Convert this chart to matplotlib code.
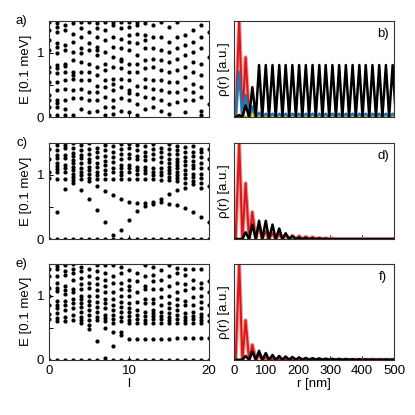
import matplotlib
matplotlib.use("Agg")
import matplotlib.pyplot as plt

plt.rcParams['font.family'] = ['Liberation Sans', 'DejaVu Sans']
plt.rcParams['font.size'] = 9.5

# energy levels E [0.1 meV] for each angular momentum l = 0..20
levels_a = [
    [1.48, 1.35, 1.20, 1.04, 0.78, 0.70, 0.55, 0.34, 0.26, 0.16, 0.03],
    [1.46, 1.41, 1.33, 1.15, 1.09, 0.99, 0.81, 0.76, 0.68, 0.55, 0.42, 0.26, 0.22, 0.16, 0.03],
    [1.43, 1.35, 1.12, 1.04, 0.83, 0.79, 0.70, 0.57, 0.44, 0.26, 0.13, 0.03],
    [1.46, 1.30, 1.17, 1.02, 0.89, 0.70, 0.66, 0.60, 0.42, 0.29, 0.03],
    [1.48, 1.38, 1.25, 1.07, 0.99, 0.86, 0.70, 0.57, 0.44, 0.29, 0.13],
    [1.48, 1.33, 1.15, 1.04, 0.83, 0.70, 0.57, 0.39, 0.26, 0.08],
    [1.46, 1.38, 1.25, 1.09, 1.05, 0.96, 0.78, 0.65, 0.49, 0.39, 0.26, 0.10],
    [1.48, 1.35, 1.20, 1.02, 0.83, 0.73, 0.57, 0.47, 0.31, 0.16, 0.03],
    [1.48, 1.43, 1.25, 1.09, 0.94, 0.78, 0.60, 0.52, 0.42, 0.26, 0.16, 0.05],
    [1.48, 1.38, 1.22, 1.07, 0.91, 0.87, 0.76, 0.60, 0.47, 0.29, 0.10],
    [1.48, 1.41, 1.28, 1.17, 1.04, 0.83, 0.70, 0.57, 0.42, 0.38, 0.26, 0.08],
    [1.48, 1.43, 1.30, 1.15, 0.96, 0.83, 0.70, 0.49, 0.36, 0.21, 0.03],
    [1.46, 1.28, 1.20, 1.07, 0.89, 0.76, 0.60, 0.47, 0.31, 0.13],
    [1.43, 1.25, 1.07, 0.91, 0.78, 0.57, 0.44, 0.29, 0.16],
    [1.48, 1.25, 1.04, 0.89, 0.73, 0.57, 0.42, 0.26, 0.10],
    [1.41, 1.17, 1.02, 0.86, 0.70, 0.55, 0.39, 0.21, 0.05],
    [1.48, 1.25, 1.07, 0.91, 0.73, 0.55, 0.39, 0.23],
    [1.28, 1.12, 0.96, 0.78, 0.62, 0.44, 0.26, 0.08],
    [1.35, 1.17, 1.02, 0.86, 0.70, 0.52, 0.39, 0.26],
    [1.43, 1.25, 1.07, 0.83, 0.65, 0.47, 0.31, 0.10, 0.03],
    [1.33, 0.94, 0.21],
]

levels_c = [
    [0.0, 0.95, 1.05, 1.25, 1.40],
    [0.0, 0.42, 0.94, 1.05, 1.09, 1.14, 1.18, 1.26, 1.31, 1.39, 1.47],
    [0.0, 0.78, 0.94, 1.05, 1.10, 1.16, 1.26, 1.31, 1.42, 1.47],
    [0.0, 0.87, 0.92, 0.97, 1.02, 1.08, 1.13, 1.18, 1.23, 1.29, 1.34, 1.42, 1.49],
    [0.0, 0.77, 0.94, 1.00, 1.05, 1.10, 1.18, 1.26, 1.31, 1.39, 1.47],
    [0.0, 0.62, 0.90, 0.95, 1.02, 1.07, 1.12, 1.20, 1.25, 1.33, 1.40, 1.49],
    [0.0, 0.45, 0.82, 0.94, 1.00, 1.05, 1.13, 1.18, 1.28, 1.35, 1.42],
    [0.0, 0.26, 0.75, 0.93, 1.02, 1.08, 1.15, 1.22, 1.30, 1.38, 1.47],
    [0.0, 0.06, 0.69, 0.93, 1.05, 1.10, 1.20, 1.28, 1.36, 1.45],
    [0.0, 0.14, 0.62, 0.93, 1.00, 1.05, 1.10, 1.15, 1.25, 1.32, 1.40, 1.48],
    [0.0, 0.30, 0.58, 0.93, 1.05, 1.10, 1.15, 1.27, 1.32, 1.42, 1.48],
    [0.0, 0.43, 0.56, 0.93, 1.02, 1.07, 1.12, 1.25, 1.30, 1.38, 1.47],
    [0.0, 0.52, 0.56, 0.93, 1.03, 1.08, 1.13, 1.23, 1.30, 1.35, 1.45],
    [0.0, 0.55, 0.58, 0.93, 1.00, 1.05, 1.10, 1.25, 1.32, 1.40, 1.48],
    [0.0, 0.57, 0.63, 0.92, 1.00, 1.05, 1.10, 1.20, 1.28, 1.35, 1.42],
    [0.0, 0.55, 0.70, 0.92, 0.97, 1.03, 1.08, 1.13, 1.18, 1.25, 1.32, 1.40, 1.48],
    [0.0, 0.53, 0.76, 0.90, 0.95, 1.00, 1.05, 1.10, 1.15, 1.20, 1.25, 1.32, 1.38, 1.45],
    [0.0, 0.48, 0.80, 0.88, 0.95, 1.02, 1.08, 1.15, 1.22, 1.28, 1.35, 1.43],
    [0.0, 0.42, 0.85, 0.90, 0.96, 1.02, 1.10, 1.15, 1.22, 1.30, 1.36, 1.45],
    [0.0, 0.35, 0.80, 0.88, 0.95, 1.02, 1.10, 1.18, 1.28, 1.35, 1.40],
    [0.0, 0.27, 0.82, 1.10, 1.25, 1.40],
]

levels_e = [
    [0.0, 0.63, 0.72, 0.85, 1.00, 1.12, 1.30, 1.42],
    [0.0, 0.60, 0.65, 0.73, 0.81, 0.86, 0.91, 1.07, 1.12, 1.20, 1.30, 1.41, 1.46],
    [0.0, 0.61, 0.66, 0.78, 0.85, 0.92, 1.02, 1.08, 1.15, 1.32, 1.38, 1.47],
    [0.0, 0.62, 0.70, 0.80, 0.88, 0.95, 1.05, 1.10, 1.25, 1.35, 1.42, 1.49],
    [0.0, 0.58, 0.62, 0.67, 0.75, 0.82, 0.88, 0.95, 1.00, 1.10, 1.18, 1.28, 1.38, 1.45],
    [0.0, 0.48, 0.55, 0.62, 0.70, 0.78, 0.85, 0.92, 1.00, 1.12, 1.20, 1.30, 1.42],
    [0.0, 0.29, 0.62, 0.67, 0.75, 0.83, 0.90, 1.00, 1.08, 1.18, 1.28, 1.38, 1.47],
    [0.03, 0.49, 0.60, 0.65, 0.70, 0.80, 0.88, 0.95, 1.05, 1.15, 1.25, 1.35, 1.48],
    [0.0, 0.22, 0.44, 0.57, 0.63, 0.70, 0.78, 0.85, 0.95, 1.05, 1.20, 1.30, 1.48],
    [0.0, 0.39, 0.44, 0.60, 0.67, 0.75, 0.82, 0.90, 1.00, 1.10, 1.20, 1.35, 1.45],
    [0.0, 0.33, 0.57, 0.62, 0.68, 0.75, 0.80, 0.88, 1.00, 1.08, 1.15, 1.25, 1.40],
    [0.0, 0.32, 0.58, 0.63, 0.70, 0.77, 0.90, 1.05, 1.22, 1.35],
    [0.0, 0.32, 0.58, 0.62, 0.68, 0.75, 0.88, 0.95, 1.10, 1.15, 1.30, 1.48],
    [0.0, 0.33, 0.57, 0.63, 0.68, 0.73, 0.78, 0.88, 0.95, 1.10, 1.22, 1.32, 1.45],
    [0.0, 0.33, 0.58, 0.63, 0.68, 0.75, 0.85, 0.98, 1.10, 1.25, 1.40],
    [0.0, 0.33, 0.57, 0.62, 0.67, 0.73, 0.80, 0.88, 1.00, 1.15, 1.30, 1.48],
    [0.0, 0.34, 0.58, 0.63, 0.70, 0.77, 0.85, 0.95, 1.05, 1.20, 1.35, 1.43],
    [0.0, 0.34, 0.57, 0.62, 0.67, 0.73, 0.85, 0.92, 1.08, 1.18, 1.32, 1.42],
    [0.0, 0.34, 0.58, 0.63, 0.68, 0.75, 0.85, 0.98, 1.12, 1.25, 1.42],
    [0.0, 0.34, 0.57, 0.62, 0.67, 0.72, 0.80, 0.90, 1.00, 1.12, 1.20, 1.42],
    [0.0, 0.34, 0.60, 0.70, 0.85, 1.05, 1.22],
]

# radial densities: positions of maxima and nodes [nm], heights at maxima
r_peak = [16, 36, 57, 78, 99, 120, 141, 161, 182, 203, 224, 245,
          266, 286, 307, 328, 349, 370, 391, 411, 432, 453, 474, 495]
r_node = [5, 26, 47, 68, 88, 109, 130, 151, 172, 193, 213, 234, 255,
          276, 297, 318, 338, 359, 380, 401, 422, 443, 463, 484, 505]

b_red = [1.0, 0.62, 0.09, 0.01]
b_blue = [0.47, 0.23, 0.11, 0.045, 0.035, 0.035, 0.035, 0.035, 0.035, 0.035, 0.035, 0.035,
          0.035, 0.035, 0.035, 0.035, 0.035, 0.035, 0.035, 0.035, 0.035, 0.035, 0.035, 0.035]
b_yellow = [0.02, 0.01, 0.03, 0.01]
b_black = [0.02, 0.12, 0.31, 0.54, 0.54, 0.54, 0.54, 0.54, 0.54, 0.54, 0.54, 0.54,
           0.54, 0.54, 0.54, 0.54, 0.54, 0.54, 0.54, 0.54, 0.54, 0.54, 0.54, 0.54]

d_red = [1.0, 0.58, 0.28, 0.145, 0.08, 0.06, 0.05, 0.04, 0.035, 0.03, 0.025, 0.02,
         0.012, 0.008, 0.005]
d_black = [0.0, 0.07, 0.15, 0.19, 0.19, 0.15, 0.11, 0.06, 0.03, 0.015, 0.01, 0.006,
           0.004, 0.003]

f_red = [1.0, 0.41, 0.156, 0.05, 0.02, 0.012, 0.01, 0.008, 0.006, 0.005, 0.004, 0.003]
f_black = [0.0, 0.04, 0.085, 0.094, 0.07, 0.05, 0.04, 0.035, 0.03, 0.025, 0.02, 0.017,
           0.015, 0.012, 0.01, 0.009, 0.008, 0.007, 0.006, 0.005, 0.005, 0.004, 0.004, 0.003]

RED = '#d7191c'


def wave(peaks):
    xs, ys = [0, r_node[0]], [0, 0]
    for i, h in enumerate(peaks):
        xs += [r_peak[i], r_node[i + 1]]
        ys += [h, 0]
    xs.append(520)
    ys.append(0)
    return xs, ys


def draw_levels(ax, levels, lab, bottom_row):
    xs, ys = [], []
    for l, col in enumerate(levels):
        xs += [l] * len(col)
        ys += col
    ax.scatter(xs, ys, s=9, c='black', lw=0)
    ax.set_xlim(0, 20)
    ax.set_ylim(0, 1.5)
    ax.set_yticks([0, 0.5, 1])
    ax.set_yticklabels(['0', '', '1'])
    ax.set_xticks([0, 10, 20])
    ax.tick_params(direction='in', length=3, width=0.7)
    ax.set_ylabel('E [0.1 meV]', labelpad=3)
    if bottom_row:
        ax.set_xlabel('l', labelpad=1)
    else:
        ax.set_xticklabels([])
    ax.text(-0.17, 1.0, lab, transform=ax.transAxes, ha='center', va='center')


def draw_density(ax, curves, lab, bottom_row):
    for peaks, color in curves:
        xs, ys = wave(peaks)
        if color == RED:
            ax.plot(xs, ys, color='#f2a0a0', lw=3.0, solid_joinstyle='round')
            ax.plot(xs, ys, color=RED, lw=1.5, solid_joinstyle='round')
        else:
            ax.plot(xs, ys, color=color, lw=1.8, solid_joinstyle='round')
    ax.set_xlim(0, 500)
    ax.set_ylim(0, 1.0)
    ax.set_yticks([])
    ax.set_xticks([0, 100, 200, 300, 400, 500])
    ax.tick_params(direction='in', length=3, width=0.7)
    ax.set_ylabel('ρ(r) [a.u.]', labelpad=3)
    if bottom_row:
        ax.set_xlabel('r [nm]', labelpad=1)
    else:
        ax.set_xticklabels([])
    ax.text(0.93, 0.86, lab, transform=ax.transAxes, ha='center', va='center')


fig = plt.figure(figsize=(4.15, 4.15), dpi=100)
bottoms = [0.718, 0.424, 0.133]
left_axes = [fig.add_axes([0.118, b, 0.386, 0.232]) for b in bottoms]
right_axes = [fig.add_axes([0.564, b, 0.386, 0.232]) for b in bottoms]

draw_levels(left_axes[0], levels_a, 'a)', False)
draw_levels(left_axes[1], levels_c, 'c)', False)
draw_levels(left_axes[2], levels_e, 'e)', True)

draw_density(right_axes[0], [(b_red, RED), (b_yellow, '#e6c800'), (b_blue, '#1f78b4'),
                             (b_black, 'black')], 'b)', False)
draw_density(right_axes[1], [(d_red, RED), (d_black, 'black')], 'd)', False)
draw_density(right_axes[2], [(f_red, RED), (f_black, 'black')], 'f)', True)

for ax in left_axes + right_axes:
    for sp in ax.spines.values():
        sp.set_linewidth(0.8)
        sp.set_color('#333333')

fig.savefig('out.png', dpi=100)
